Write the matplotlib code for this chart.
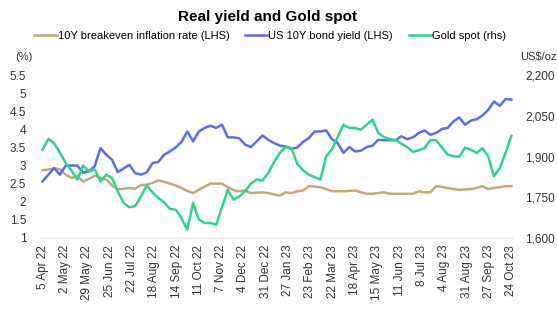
import pandas as pd
import matplotlib
matplotlib.use("Agg")
import matplotlib.pyplot as plt

plt.rcParams["font.family"] = ["Liberation Sans", "DejaVu Sans"]

# weekly observations, 5 Apr 2022 .. 24 Oct 2023
dates = pd.date_range("2022-04-05", "2023-10-24", freq="7D")

breakeven = [2.87, 2.89, 2.92, 2.90, 2.75, 2.66, 2.70, 2.56, 2.63, 2.72,
             2.66, 2.61, 2.45, 2.34, 2.36, 2.38, 2.36, 2.46, 2.47, 2.52,
             2.59, 2.55, 2.50, 2.45, 2.38, 2.30, 2.24, 2.33, 2.42, 2.50,
             2.50, 2.50, 2.40, 2.32, 2.29, 2.31, 2.24, 2.25, 2.26, 2.24,
             2.20, 2.17, 2.26, 2.24, 2.29, 2.31, 2.43, 2.42, 2.40, 2.35,
             2.29, 2.29, 2.29, 2.30, 2.31, 2.26, 2.22, 2.22, 2.24, 2.26,
             2.22, 2.22, 2.22, 2.22, 2.22, 2.29, 2.26, 2.26, 2.43, 2.41,
             2.38, 2.35, 2.33, 2.34, 2.35, 2.38, 2.43, 2.35, 2.38, 2.40,
             2.43, 2.43]

us10y = [2.56, 2.75, 2.93, 2.75, 3.00, 3.00, 3.00, 2.80, 2.84, 2.98,
         3.48, 3.30, 3.16, 2.82, 2.92, 3.02, 2.79, 2.75, 2.81, 3.07,
         3.10, 3.30, 3.39, 3.50, 3.65, 3.94, 3.67, 3.94, 4.04, 4.10,
         4.04, 4.13, 3.78, 3.78, 3.75, 3.58, 3.51, 3.67, 3.83, 3.71,
         3.62, 3.55, 3.53, 3.46, 3.50, 3.65, 3.76, 3.94, 3.94, 3.97,
         3.73, 3.62, 3.35, 3.51, 3.39, 3.41, 3.51, 3.55, 3.71, 3.70,
         3.70, 3.70, 3.81, 3.73, 3.78, 3.90, 3.97, 3.85, 3.90, 4.01,
         4.04, 4.22, 4.33, 4.13, 4.24, 4.28, 4.38, 4.54, 4.77, 4.65,
         4.84, 4.82]

gold = [1925, 1965, 1949, 1913, 1876, 1848, 1815, 1867, 1845, 1852,
        1808, 1833, 1821, 1771, 1729, 1713, 1717, 1753, 1793, 1768,
        1747, 1731, 1707, 1704, 1673, 1631, 1729, 1668, 1655, 1655,
        1649, 1713, 1777, 1741, 1753, 1772, 1800, 1815, 1812, 1839,
        1880, 1913, 1935, 1931, 1873, 1849, 1833, 1824, 1815, 1900,
        1927, 1973, 2017, 2005, 2005, 1999, 2017, 2036, 1987, 1972,
        1964, 1961, 1947, 1935, 1917, 1923, 1931, 1960, 1960, 1933,
        1907, 1901, 1899, 1933, 1925, 1913, 1931, 1900, 1827, 1857,
        1913, 1976]

tick_dates = pd.date_range("2022-04-05", "2023-10-24", freq="27D")
tick_labels = [f"{d.day} {d.strftime('%b %y')}" for d in tick_dates]

c_tan = "#C8A874"
c_blue = "#5B6BF8"
c_green = "#2DD48E"

fig = plt.figure(figsize=(5.57, 3.09), dpi=100)
ax = fig.add_axes([0.072, 0.23, 0.849, 0.527])
ax2 = ax.twinx()

l1, = ax.plot(dates, breakeven, color=c_tan, lw=1.8,
              label="10Y breakeven inflation rate (LHS)")
l2, = ax.plot(dates, us10y, color=c_blue, lw=1.8,
              label="US 10Y bond yield (LHS)")
l3, = ax2.plot(dates, gold, color=c_green, lw=1.8, label="Gold spot (rhs)")

ax.set_ylim(1, 5.5)
ax.set_yticks([1, 1.5, 2, 2.5, 3, 3.5, 4, 4.5, 5, 5.5])
ax.set_yticklabels(["1", "1.5", "2", "2.5", "3", "3.5", "4", "4.5", "5", "5.5"])
ax2.set_ylim(1600, 2200)
ax2.set_yticks([1600, 1750, 1900, 2050, 2200])
ax2.set_yticklabels(["1,600", "1,750", "1,900", "2,050", "2,200"])

ax.set_xlim(dates[0] - pd.Timedelta(days=3), dates[-1] + pd.Timedelta(days=2))
ax.set_xticks(tick_dates)
ax.set_xticklabels(tick_labels, rotation=90)

for a in (ax, ax2):
    for s in ("top", "left", "right"):
        a.spines[s].set_visible(False)
    a.spines["bottom"].set_color("#E6E6E6")
    a.tick_params(length=0, labelsize=8.5, colors="#333333")
ax.tick_params(axis="y", pad=10)
ax2.tick_params(axis="y", pad=9)
ax.tick_params(axis="x", pad=5, labelsize=8.5)

fig.text(0.48, 0.945, "Real yield and Gold spot", ha="center", va="center",
         fontsize=11, fontweight="bold")
fig.legend(handles=[l1, l2, l3], loc="center", bbox_to_anchor=(0.485, 0.885),
           ncol=3, frameon=False, fontsize=8, handlelength=2.0,
           handletextpad=0.1, columnspacing=1.4)
fig.text(0.027, 0.815, "(%)", fontsize=8, color="#333333", va="center")
fig.text(0.934, 0.815, "US$/oz", fontsize=8, color="#333333", va="center")

fig.savefig("out.png", dpi=100)
